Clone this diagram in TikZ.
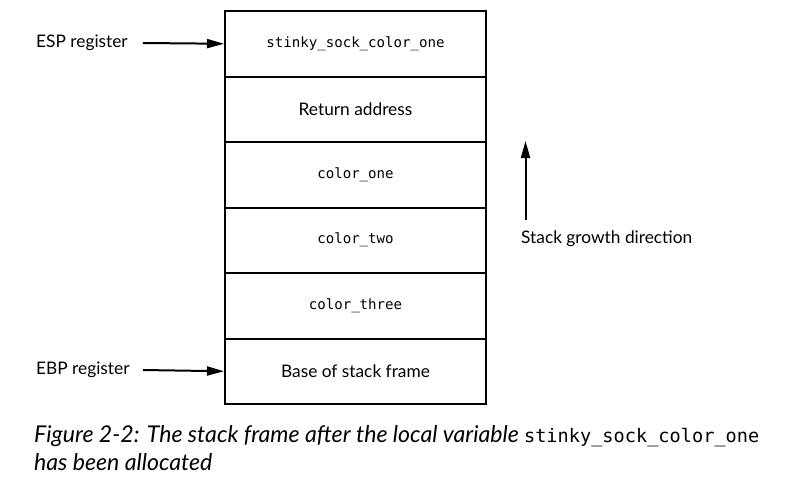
\documentclass[tikz,border=0pt]{standalone}
\usepackage{fontspec}
\setmainfont{Lato}
\setmonofont{DejaVu Sans Mono}
\usetikzlibrary{arrows.meta}
\begin{document}
\begin{tikzpicture}[x=1pt,y=-1pt,
  cell/.style={draw=black,line width=2pt,minimum width=261pt,minimum height=65.5pt,inner sep=0pt,anchor=north west},
  lbl/.style={font=\fontsize{17.3}{19}\selectfont,inner sep=0pt},
  mono/.style={font=\fontsize{14.1}{16}\ttfamily,inner sep=0pt},
  arr/.style={line width=2pt,-{Triangle[length=17pt,width=9pt]}}]
\useasboundingbox (0,0) rectangle (790,496);
\node[cell] (c1) at (224,10) {};
\node[cell] (c2) at (224,75.5) {};
\node[cell] (c3) at (224,141) {};
\node[cell] (c4) at (224,206.5) {};
\node[cell] (c5) at (224,272) {};
\node[cell] (c6) at (224,337.5) {};
\node[mono] (t1) at (c1.center) {stinky\_sock\_color\_one};
\node[lbl] (t2) at (c2.center) {Return address};
\node[mono] (t3) at (c3.center) {color\_one};
\node[mono] (t4) at (c4.center) {color\_two};
\node[mono] (t5) at (c5.center) {color\_three};
\node[lbl] (t6) at (c6.center) {Base of stack frame};
\node[lbl,anchor=west] (esp) at (36,43) {ESP register};
\node[lbl,anchor=west] (ebp) at (36,370) {EBP register};
\coordinate (espS) at (143,43);
\coordinate (ebpS) at (143,370);
\draw[arr] (espS) -- (c1.west);
\draw[arr] (ebpS) -- (c6.west);
\coordinate (gS) at (525.5,220);
\coordinate (gE) at (525.5,141);
\draw[arr] (gS) -- (gE);
\node[lbl,anchor=west] (grow) at (521,239) {Stack growth direction};
\node[anchor=north west,inner sep=0pt,align=left,font=\fontsize{23.1}{28}\selectfont\itshape] (cap) at (34,425)
 {Figure 2-2: The stack frame after the local variable {\upshape\ttfamily\fontsize{18.6}{28}\selectfont stinky\_sock\_color\_one}\\has been allocated};
\end{tikzpicture}
\end{document}
